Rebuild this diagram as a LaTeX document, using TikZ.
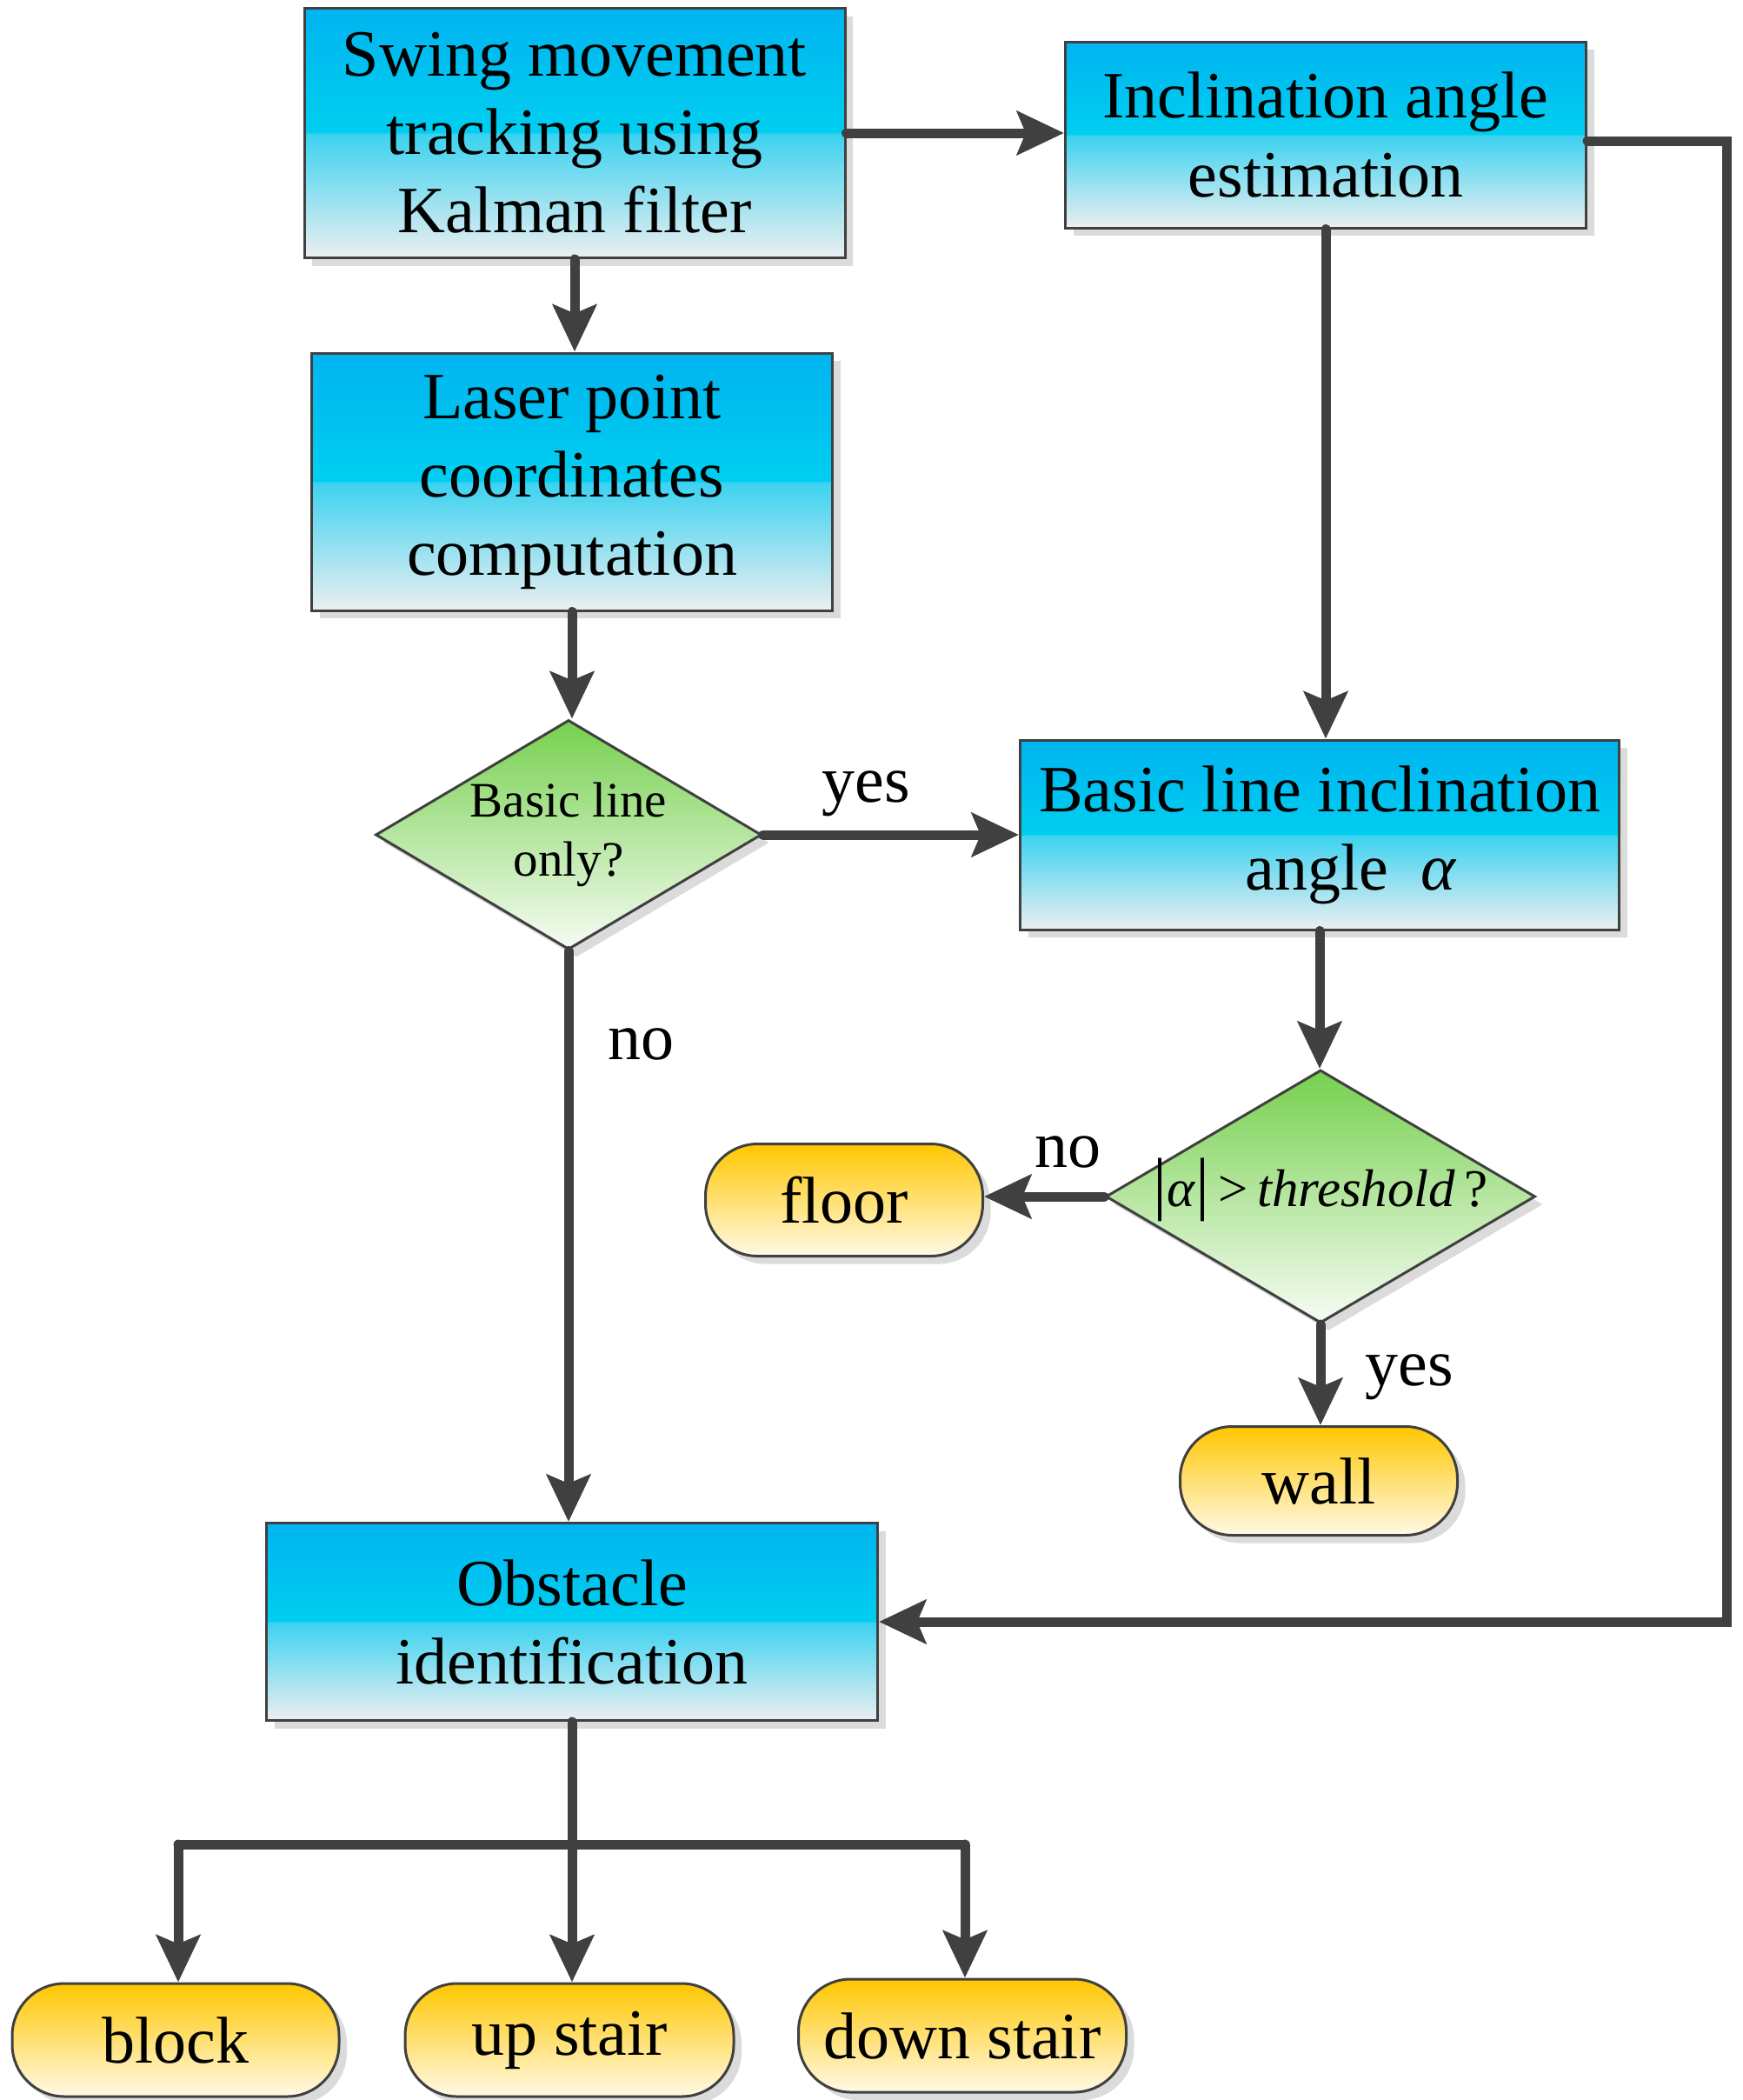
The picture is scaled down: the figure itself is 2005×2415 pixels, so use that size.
\documentclass[tikz,border=0pt]{standalone}
\usepackage{fontspec}
\setmainfont{Liberation Serif}
\usetikzlibrary{shapes.geometric,shapes.misc,arrows.meta,shadows}
\definecolor{lncol}{HTML}{404040}
\definecolor{bxtop}{HTML}{00B4F0}
\definecolor{bxmidA}{HTML}{00CEF0}
\definecolor{bxmidB}{HTML}{3CD2F0}
\definecolor{bxbot}{HTML}{ECEFF0}
\definecolor{dmtop}{HTML}{76D04E}
\definecolor{dmbot}{HTML}{F6FCF3}
\definecolor{tmtop}{HTML}{FFC700}
\definecolor{tmbot}{HTML}{FFF9E6}
\pgfdeclareverticalshading{boxshade}{100bp}{color(0bp)=(bxbot); color(25bp)=(bxbot); color(49.8bp)=(bxmidB); color(50.2bp)=(bxmidA); color(75bp)=(bxtop); color(100bp)=(bxtop)}
\begin{document}
\begin{tikzpicture}[x=1pt,y=-1pt,
  bigfont/.style={font=\fontsize{76}{90}\selectfont},
  shad/.style={drop shadow={shadow xshift=9pt, shadow yshift=-9pt, fill=black!14, opacity=1}},
  procbox/.style={rectangle, draw=lncol, line width=3pt, shading=boxshade, inner sep=4pt, align=center, bigfont, shad},
  decbox/.style={diamond, draw=lncol, line width=3pt, top color=dmtop, bottom color=dmbot, inner sep=0pt, shad},
  termbox/.style={rectangle, rounded corners=60pt, draw=lncol, line width=3pt, top color=tmtop, bottom color=tmbot, inner sep=4pt, bigfont, shad},
  dectext/.style={font=\fontsize{57}{68}\selectfont, align=center, inner sep=0pt},
  conn/.style={draw=lncol, line width=11pt, line cap=round},
  arr/.style={conn, -{Stealth[length=54pt, width=50pt, inset=10pt]}},
  lbl/.style={bigfont, anchor=base, inner sep=0pt}]
\fill[white] (0,0) rectangle (2005,2415);
\useasboundingbox (0,0) rectangle (2005,2415);

% process boxes
\node[procbox, minimum width=622pt, minimum height=287pt] (b1) at (661,153) {Swing movement\\tracking using\\Kalman filter};
\node[procbox, minimum width=599pt, minimum height=214pt] (b2) at (1525,155) {Inclination angle\\estimation};
\node[procbox, minimum width=599pt, minimum height=296pt] (b3) at (658,554) {Laser point\\coordinates\\computation};
\node[procbox, minimum width=689pt, minimum height=218pt] (b4) at (1518,960) {Basic line inclination\\\hspace*{72pt}angle\hspace{37pt}\textit{α}};
\node[procbox, minimum width=703pt, minimum height=227pt] (b5) at (658,1865) {Obstacle\\identification};

% decisions
\node[decbox, minimum width=444pt, minimum height=264pt] (d1) at (654,960) {};
\node[dectext] (d1t) at (d1.center) {Basic line\\only?};
\node[decbox, minimum width=494pt, minimum height=291pt] (d2) at (1519,1376) {};
\node[dectext, font=\fontsize{61}{70}\selectfont] (d2t) at ([yshift=8pt]d2.center) {{\fontsize{80}{80}\selectfont|}\textit{α}{\fontsize{80}{80}\selectfont|}\,>\,\textit{threshold}\,?};

% terminals
\node[termbox, minimum width=319pt, minimum height=129pt] (fl) at (971,1380) {floor};
\node[termbox, minimum width=319pt, minimum height=125pt] (wl) at (1517,1703) {wall};
\node[termbox, minimum width=376pt, minimum height=130pt] (bl) at (202,2346) {block};
\node[termbox, minimum width=378pt, minimum height=130pt] (us) at (655,2346) {up stair};
\node[termbox, minimum width=377pt, minimum height=130pt] (ds) at (1107,2341) {down stair};

% connectors
\draw[arr] (b1.east) -- (b1.east -| b2.west);
\draw[arr] (b1.south) -- (b1.south |- b3.north);
\draw[arr] (b3.south) -- (b3.south |- d1.north);
\draw[arr] (b2.south) -- (b2.south |- b4.north);
\draw[arr] (d1.east) -- (d1.east -| b4.west);
\draw[arr] (d1.south) -- (d1.south |- b5.north);
\draw[arr] (b4.south) -- (b4.south |- d2.north);
\draw[arr] (d2.west) -- (d2.west -| fl.east);
\draw[arr] (d2.south) -- (d2.south |- wl.north);
\coordinate (rx) at (1986,1000);
\draw[arr] ([yshift=-7pt]b2.east) -| (rx) |- (b5.east);

\coordinate (jl) at (205,2121);
\coordinate (jr) at (1110,2121);
\draw[conn] (jl) -- (jr);
\draw[arr] (b5.south) -- (b5.south |- us.north);
\draw[arr] (jl) -- (jl |- bl.north);
\draw[arr] (jr) -- (jr |- ds.north);

% labels
\node[lbl] (yes1) at (996,922) {yes};
\node[lbl] (no1) at (737,1218) {no};
\node[lbl] (no2) at (1228,1342) {no};
\node[lbl] (yes2) at (1621,1593) {yes};
\end{tikzpicture}
\end{document}
